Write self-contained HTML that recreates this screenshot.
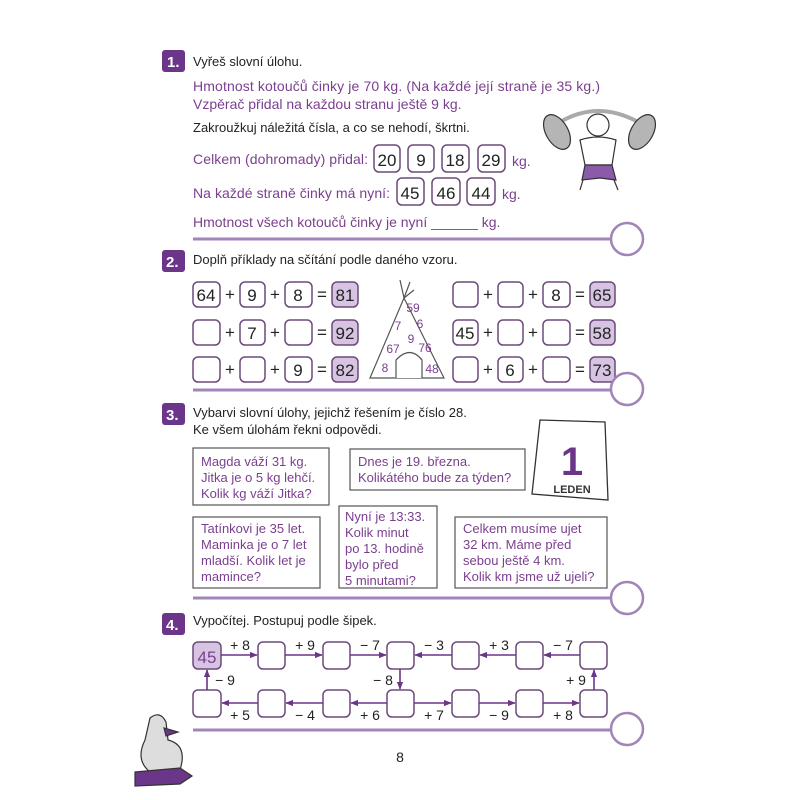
<!DOCTYPE html>
<html><head><meta charset="utf-8"><style>
html,body{margin:0;padding:0;background:#fff;}
svg{display:block;font-family:"Liberation Sans",Arial,sans-serif;}
.p{fill:#7b3f8f;}
.k{fill:#222;}
.bx{fill:#fff;stroke:#6b4a7a;stroke-width:1.5;}
.sh{fill:#d6c4e2;stroke:#6b4a7a;stroke-width:1.5;}
.tb{fill:#fff;stroke:#555;stroke-width:1.2;}
.ln{stroke:#a184b8;stroke-width:3;}
.ci{fill:#fff;stroke:#a184b8;stroke-width:2.5;}
.ar{stroke:#6b3589;stroke-width:1.6;fill:none;}
</style></head><body>
<svg width="800" height="800" viewBox="0 0 800 800">
<defs>
<marker id="a" viewBox="0 0 10 10" refX="9" refY="5" markerWidth="5" markerHeight="5" orient="auto"><path d="M0,1 L10,5 L0,9z" fill="#6b3589"/></marker>
</defs>

<!-- Section 1 -->
<rect x="162" y="50" width="23" height="22" rx="3" fill="#6b3589"/>
<text x="167" y="67" font-size="15" font-weight="bold" fill="#fff">1.</text>
<text x="193" y="66" font-size="13" class="k">Vyřeš slovní úlohu.</text>
<text x="193" y="91" font-size="14" class="p" textLength="407">Hmotnost kotoučů činky je 70 kg. (Na každé její straně je 35 kg.)</text>
<text x="193" y="109" font-size="14" class="p">Vzpěrač přidal na každou stranu ještě 9 kg.</text>
<text x="193" y="132" font-size="13" class="k">Zakroužkuj náležitá čísla, a co se nehodí, škrtni.</text>
<text x="193" y="164" font-size="14" class="p" textLength="175">Celkem (dohromady) přidal:</text>
<rect class="bx" x="374" y="145" width="26" height="27" rx="5"/><text x="387" y="166" font-size="17" text-anchor="middle" class="k">20</text>
<rect class="bx" x="408" y="145" width="26" height="27" rx="5"/><text x="421" y="166" font-size="17" text-anchor="middle" class="k">9</text>
<rect class="bx" x="442" y="145" width="27" height="27" rx="5"/><text x="455" y="166" font-size="17" text-anchor="middle" class="k">18</text>
<rect class="bx" x="478" y="145" width="27" height="27" rx="5"/><text x="491" y="166" font-size="17" text-anchor="middle" class="k">29</text>
<text x="512" y="166" font-size="14" class="p">kg.</text>
<text x="193" y="198" font-size="14" class="p" textLength="197">Na každé straně činky má nyní:</text>
<rect class="bx" x="397" y="178" width="27" height="27" rx="5"/><text x="410" y="199" font-size="17" text-anchor="middle" class="k">45</text>
<rect class="bx" x="432" y="178" width="28" height="27" rx="5"/><text x="446" y="199" font-size="17" text-anchor="middle" class="k">46</text>
<rect class="bx" x="467" y="178" width="28" height="27" rx="5"/><text x="481" y="199" font-size="17" text-anchor="middle" class="k">44</text>
<text x="502" y="199" font-size="14" class="p">kg.</text>
<text x="193" y="227" font-size="14" class="p">Hmotnost všech kotoučů činky je nyní ______ kg.</text>
<!-- weightlifter -->
<g stroke="#333" stroke-width="1.2">
<path d="M560,122 Q598,100 638,122" fill="none" stroke-width="4" stroke="#aaa"/>
<ellipse cx="557" cy="132" rx="11" ry="19" fill="#b5b5b5" transform="rotate(-30 557 132)"/>
<ellipse cx="642" cy="132" rx="11" ry="19" fill="#b5b5b5" transform="rotate(30 642 132)"/>
<circle cx="598" cy="125" r="11" fill="#fff"/>
<path d="M580,140 Q598,134 616,140 L612,165 L585,165z" fill="#fff"/>
<path d="M585,165 L612,165 L616,180 L600,178 L582,180z" fill="#8b5aa8"/>
<path d="M583,180 L580,190 M614,180 L618,190" fill="none"/>
</g>
<line class="ln" x1="193" y1="239" x2="612" y2="239"/>
<circle class="ci" cx="627" cy="239" r="16"/>

<!-- Section 2 -->
<rect x="162" y="250" width="23" height="22" rx="3" fill="#6b3589"/>
<text x="166" y="267" font-size="15" font-weight="bold" fill="#fff">2.</text>
<text x="193" y="264" font-size="13" class="k">Doplň příklady na sčítání podle daného vzoru.</text>
<g font-size="17" class="k" text-anchor="middle">
<rect class="bx" x="193" y="282" width="27" height="25" rx="5"/><text x="206" y="301">64</text>
<text x="230" y="300">+</text>
<rect class="bx" x="240" y="282" width="25" height="25" rx="5"/><text x="252" y="301">9</text>
<text x="275" y="300">+</text>
<rect class="bx" x="285" y="282" width="27" height="25" rx="5"/><text x="298" y="301">8</text>
<text x="322" y="300">=</text>
<rect class="sh" x="332" y="282" width="26" height="25" rx="5"/><text x="345" y="301">81</text>
<rect class="bx" x="193" y="320" width="27" height="25" rx="5"/>
<text x="230" y="338">+</text>
<rect class="bx" x="240" y="320" width="25" height="25" rx="5"/><text x="252" y="339">7</text>
<text x="275" y="338">+</text>
<rect class="bx" x="285" y="320" width="27" height="25" rx="5"/>
<text x="322" y="338">=</text>
<rect class="sh" x="332" y="320" width="26" height="25" rx="5"/><text x="345" y="339">92</text>
<rect class="bx" x="193" y="357" width="27" height="25" rx="5"/>
<text x="230" y="375">+</text>
<rect class="bx" x="240" y="357" width="25" height="25" rx="5"/>
<text x="275" y="375">+</text>
<rect class="bx" x="285" y="357" width="27" height="25" rx="5"/><text x="298" y="376">9</text>
<text x="322" y="375">=</text>
<rect class="sh" x="332" y="357" width="26" height="25" rx="5"/><text x="345" y="376">82</text>
<rect class="bx" x="453" y="282" width="25" height="25" rx="5"/>
<text x="488" y="300">+</text>
<rect class="bx" x="498" y="282" width="25" height="25" rx="5"/>
<text x="533" y="300">+</text>
<rect class="bx" x="543" y="282" width="27" height="25" rx="5"/><text x="556" y="301">8</text>
<text x="580" y="300">=</text>
<rect class="sh" x="590" y="282" width="25" height="25" rx="5"/><text x="602" y="301">65</text>
<rect class="bx" x="453" y="320" width="25" height="25" rx="5"/><text x="465" y="339">45</text>
<text x="488" y="338">+</text>
<rect class="bx" x="498" y="320" width="25" height="25" rx="5"/>
<text x="533" y="338">+</text>
<rect class="bx" x="543" y="320" width="27" height="25" rx="5"/>
<text x="580" y="338">=</text>
<rect class="sh" x="590" y="320" width="25" height="25" rx="5"/><text x="602" y="339">58</text>
<rect class="bx" x="453" y="357" width="25" height="25" rx="5"/>
<text x="488" y="375">+</text>
<rect class="bx" x="498" y="357" width="25" height="25" rx="5"/><text x="510" y="376">6</text>
<text x="533" y="375">+</text>
<rect class="bx" x="543" y="357" width="27" height="25" rx="5"/>
<text x="580" y="375">=</text>
<rect class="sh" x="590" y="357" width="25" height="25" rx="5"/><text x="602" y="376">73</text>
</g>
<g stroke="#555" stroke-width="1.2" fill="#fff">
<path d="M404,298 L370,378 L444,378 Z"/>
<path d="M404,298 L400,280 M404,298 L410,282 M404,298 L414,290" fill="none"/>
<path d="M396,378 L396,360 Q410,345 422,360 L422,378" fill="#fff"/>
</g>
<g font-size="12" class="p" text-anchor="middle">
<text x="413" y="312">59</text><text x="398" y="330">7</text><text x="420" y="328">6</text>
<text x="411" y="343">9</text><text x="393" y="353">67</text><text x="425" y="352">76</text>
<text x="385" y="372">8</text><text x="432" y="373">48</text>
</g>
<line class="ln" x1="193" y1="390" x2="612" y2="390"/>
<circle class="ci" cx="627" cy="389" r="16"/>

<!-- Section 3 -->
<rect x="162" y="403" width="23" height="22" rx="3" fill="#6b3589"/>
<text x="166" y="420" font-size="15" font-weight="bold" fill="#fff">3.</text>
<text x="193" y="417" font-size="13" class="k">Vybarvi slovní úlohy, jejichž řešením je číslo 28.</text>
<text x="193" y="434" font-size="13" class="k">Ke všem úlohám řekni odpovědi.</text>
<g stroke="#333" stroke-width="1.3">
<path d="M540,420 L605,422 L608,500 L532,494 Z" fill="#fff"/>
<text x="572" y="475" font-size="40" font-weight="bold" text-anchor="middle" fill="#6b3589" stroke="none">1</text>
<text x="572" y="493" font-size="11" font-weight="bold" text-anchor="middle" fill="#333" stroke="none">LEDEN</text>
</g>
<g font-size="13" class="p">
<rect class="tb" x="193" y="448" width="136" height="57"/>
<text x="201" y="466">Magda váží 31 kg.</text><text x="201" y="482">Jitka je o 5 kg lehčí.</text><text x="201" y="498">Kolik kg váží Jitka?</text>
<rect class="tb" x="350" y="449" width="175" height="41"/>
<text x="358" y="466">Dnes je 19. března.</text><text x="358" y="482">Kolikátého bude za týden?</text>
<rect class="tb" x="193" y="517" width="127" height="71"/>
<text x="201" y="533">Tatínkovi je 35 let.</text><text x="201" y="549">Maminka je o 7 let</text><text x="201" y="565">mladší. Kolik let je</text><text x="201" y="581">mamince?</text>
<rect class="tb" x="339" y="506" width="98" height="82"/>
<text x="345" y="521">Nyní je 13:33.</text><text x="345" y="537">Kolik minut</text><text x="345" y="553">po 13. hodině</text><text x="345" y="569">bylo před</text><text x="345" y="585">5 minutami?</text>
<rect class="tb" x="455" y="517" width="152" height="71"/>
<text x="463" y="533">Celkem musíme ujet</text><text x="463" y="549">32 km. Máme před</text><text x="463" y="565">sebou ještě 4 km.</text><text x="463" y="581">Kolik km jsme už ujeli?</text>
</g>
<line class="ln" x1="193" y1="598" x2="612" y2="598"/>
<circle class="ci" cx="627" cy="598" r="16"/>

<!-- Section 4 -->
<rect x="162" y="613" width="23" height="22" rx="3" fill="#6b3589"/>
<text x="166" y="630" font-size="15" font-weight="bold" fill="#fff">4.</text>
<text x="193" y="625" font-size="13" class="k">Vypočítej. Postupuj podle šipek.</text>
<rect class="sh" x="193" y="642" width="28" height="27" rx="5"/>
<text x="207" y="663" font-size="17" text-anchor="middle" fill="#7b3f8f">45</text>
<g>
<rect class="bx" x="258" y="642" width="27" height="27" rx="5"/>
<rect class="bx" x="323" y="642" width="27" height="27" rx="5"/>
<rect class="bx" x="387" y="642" width="27" height="27" rx="5"/>
<rect class="bx" x="452" y="642" width="27" height="27" rx="5"/>
<rect class="bx" x="516" y="642" width="27" height="27" rx="5"/>
<rect class="bx" x="580" y="642" width="27" height="27" rx="5"/>
<rect class="bx" x="193" y="690" width="28" height="27" rx="5"/>
<rect class="bx" x="258" y="690" width="27" height="27" rx="5"/>
<rect class="bx" x="323" y="690" width="27" height="27" rx="5"/>
<rect class="bx" x="387" y="690" width="27" height="27" rx="5"/>
<rect class="bx" x="452" y="690" width="27" height="27" rx="5"/>
<rect class="bx" x="516" y="690" width="27" height="27" rx="5"/>
<rect class="bx" x="580" y="690" width="27" height="27" rx="5"/>
</g>
<g class="ar" marker-end="url(#a)">
<line x1="221" y1="655" x2="257" y2="655"/>
<line x1="285" y1="655" x2="322" y2="655"/>
<line x1="350" y1="655" x2="386" y2="655"/>
<line x1="452" y1="655" x2="415" y2="655"/>
<line x1="516" y1="655" x2="480" y2="655"/>
<line x1="580" y1="655" x2="544" y2="655"/>
<line x1="400" y1="669" x2="400" y2="689"/>
<line x1="207" y1="690" x2="207" y2="670"/>
<line x1="594" y1="690" x2="594" y2="670"/>
<line x1="258" y1="703" x2="222" y2="703"/>
<line x1="323" y1="703" x2="286" y2="703"/>
<line x1="387" y1="703" x2="351" y2="703"/>
<line x1="414" y1="703" x2="451" y2="703"/>
<line x1="479" y1="703" x2="515" y2="703"/>
<line x1="543" y1="703" x2="579" y2="703"/>
</g>
<g font-size="14" class="k" text-anchor="middle">
<text x="240" y="650">+ 8</text><text x="305" y="650">+ 9</text><text x="370" y="650">− 7</text>
<text x="434" y="650">− 3</text><text x="499" y="650">+ 3</text><text x="563" y="650">− 7</text>
<text x="225" y="685">− 9</text><text x="383" y="685">− 8</text><text x="576" y="685">+ 9</text>
<text x="240" y="720">+ 5</text><text x="305" y="720">− 4</text><text x="370" y="720">+ 6</text>
<text x="434" y="720">+ 7</text><text x="499" y="720">− 9</text><text x="563" y="720">+ 8</text>
</g>
<line class="ln" x1="193" y1="730" x2="612" y2="730"/>
<circle class="ci" cx="627" cy="729" r="16"/>
<text x="400" y="762" font-size="14" text-anchor="middle" class="k">8</text>

<!-- goose -->
<g stroke="#333" stroke-width="1.2">
<path d="M150,718 Q160,710 166,722 L168,740 Q188,745 180,770 L150,772 Q135,760 145,740 Z" fill="#ddd"/>
<path d="M164,728 L178,732 L166,736 Z" fill="#6b3589"/>
<path d="M135,772 L180,768 L192,776 L180,784 L135,786 Z" fill="#6b3589"/>
</g>
</svg>
</body></html>
